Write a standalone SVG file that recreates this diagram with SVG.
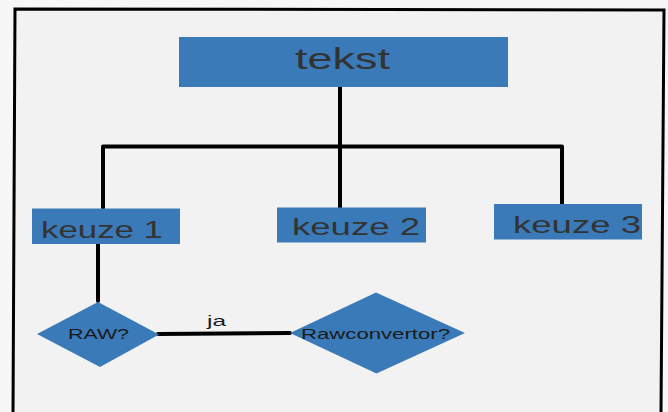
<svg xmlns="http://www.w3.org/2000/svg" width="668" height="412" viewBox="0 0 668 412">
<style>
.box{fill:#3a7ab8}
.lbl{font-family:"Liberation Sans",Arial,sans-serif;fill:#333333}
.dlbl{font-family:"Liberation Sans",Arial,sans-serif;fill:#1a1a1a}
.con{stroke:#000;stroke-width:4;fill:none;stroke-linecap:round;stroke-linejoin:round}
</style>
<rect x="0" y="0" width="668" height="412" fill="#f7f7f7"/>
<path d="M13,414 L15,9 L664,10 L661,414 Z" fill="#f3f2f2" stroke="#000" stroke-width="3"/>
<g id="connectors">
<line class="con" x1="340" y1="87" x2="340" y2="208"/>
<polyline class="con" points="103,208 103,146.5 562,146.5 562,204"/>
<line class="con" x1="98" y1="244" x2="98" y2="301"/>
<line class="con" x1="158" y1="334" x2="290" y2="333" stroke-width="3.5"/>
<text class="dlbl" x="207" y="326" font-size="14.5" textLength="19" lengthAdjust="spacingAndGlyphs">ja</text>
</g>
<g id="tekst">
<rect class="box" x="179" y="37" width="329" height="50"/>
<text class="lbl" x="295" y="69" font-size="30" textLength="95" lengthAdjust="spacingAndGlyphs">tekst</text>
</g>
<g id="keuze1">
<rect class="box" x="32" y="208.5" width="148" height="35.5"/>
<text class="lbl" x="41" y="237.5" font-size="24" textLength="122" lengthAdjust="spacingAndGlyphs">keuze 1</text>
</g>
<g id="keuze2">
<rect class="box" x="277" y="207.5" width="149" height="35"/>
<text class="lbl" x="292" y="234.5" font-size="24" textLength="128" lengthAdjust="spacingAndGlyphs">keuze 2</text>
</g>
<g id="keuze3">
<rect class="box" x="494" y="204" width="148" height="35.5"/>
<text class="lbl" x="513" y="232.5" font-size="24" textLength="128" lengthAdjust="spacingAndGlyphs">keuze 3</text>
</g>
<g id="raw">
<polygon class="box" points="37,334 98,302 159,334.5 100,367"/>
<text class="dlbl" x="68" y="339" font-size="14.5" textLength="61" lengthAdjust="spacingAndGlyphs">RAW?</text>
</g>
<g id="rawconvertor">
<polygon class="box" points="290,333 376,292.5 465,333 376.5,373.5"/>
<text class="dlbl" x="301" y="338.5" font-size="15" textLength="149" lengthAdjust="spacingAndGlyphs">Rawconvertor?</text>
</g>
</svg>
